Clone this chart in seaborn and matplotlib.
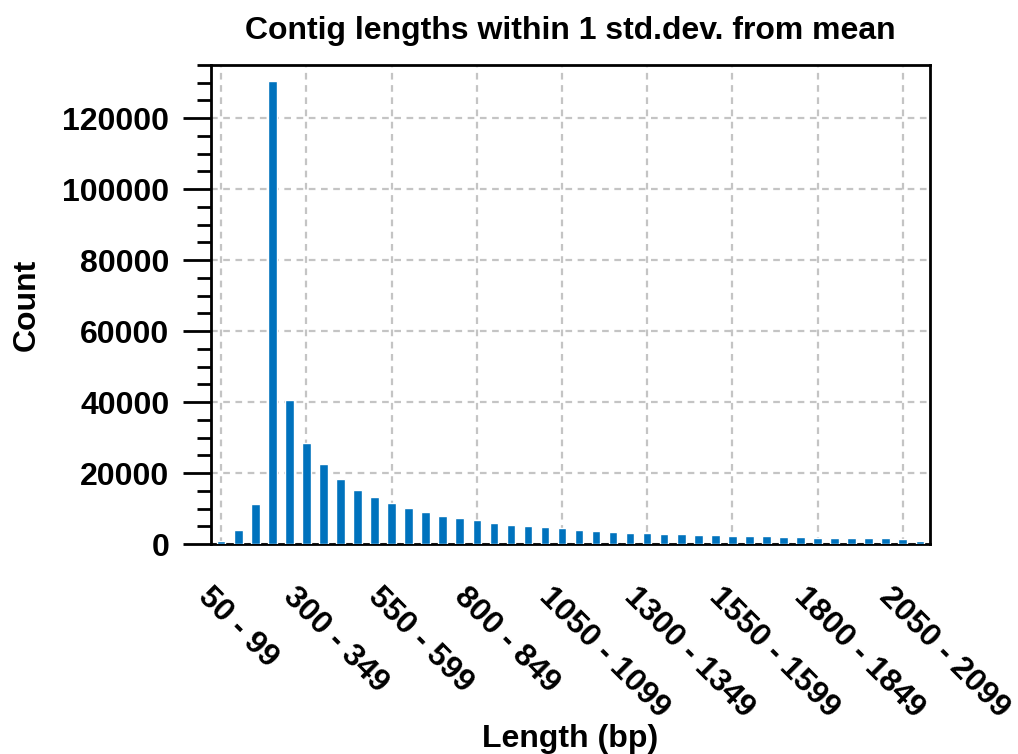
import numpy as np
import pandas as pd
import matplotlib
matplotlib.use('Agg')
import matplotlib.pyplot as plt
import matplotlib.transforms as mtransforms
from matplotlib.ticker import MultipleLocator
import seaborn as sns

# 구간 (bin 시작값, 50bp 단위)
bin_starts = list(range(50, 2150, 50))
bin_labels = [f'{s} - {s + 49}' for s in bin_starts]
# 구간별 contig 개수
counts = [850, 3900, 11350, 130400, 40500, 28500, 22450, 18200, 15200, 13150,
          11460, 10060, 9010, 7890, 7230, 6670, 5920, 5450, 5070, 4700,
          4420, 3940, 3660, 3470, 3190, 3000, 2900, 2730, 2540, 2440,
          2250, 2200, 2150, 1970, 1950, 1780, 1690, 1650, 1600, 1560,
          1500, 930]

df = pd.DataFrame({'Length': bin_labels, 'Count': counts})

sns.set_style('white')
plt.rcParams['font.family'] = ['Liberation Sans', 'DejaVu Sans']
plt.rcParams['font.weight'] = 'bold'
for key in ['text.color', 'axes.labelcolor', 'xtick.color', 'ytick.color']:
    plt.rcParams[key] = 'black'

fig = plt.figure(figsize=(10.18, 7.54), dpi=100)
ax = fig.add_axes([211 / 1018, 1 - 544 / 754, 719 / 1018, 479 / 754])

sns.barplot(data=df, x='Length', y='Count', color='#0072BD', width=0.5,
            saturation=1, ax=ax, zorder=3)

ax.set_xlim(-0.6, len(bin_labels) - 0.4)
ax.set_ylim(0, 135000)

# x 눈금: 5 구간마다
tick_pos = list(range(0, len(bin_labels), 5))
ax.set_xticks(tick_pos)
ax.tick_params(axis='x', length=0, pad=27)
ax.set_xticklabels([bin_labels[i] for i in tick_pos], rotation=-45,
                   ha='left', va='top', rotation_mode='anchor', fontsize=23,
                   fontweight='bold')

ax.yaxis.set_major_locator(MultipleLocator(20000))
ax.yaxis.set_minor_locator(MultipleLocator(5000))
ax.tick_params(axis='y', which='major', length=20, width=2, labelsize=23,
               pad=10, direction='out', left=True)
ax.tick_params(axis='y', which='minor', length=10, width=2, direction='out',
               left=True)
for lbl in ax.get_yticklabels():
    lbl.set_fontweight('bold')

# 라벨을 왼쪽으로 조금 이동 (tick_params 이후에 적용해야 유지됨)
offset = mtransforms.ScaledTranslation(-8 / 100, 0, fig.dpi_scale_trans)
for lbl in ax.get_xticklabels():
    lbl.set_transform(lbl.get_transform() + offset)

ax.grid(True, which='major', linestyle=(0, (3, 2.5)), color='#c4c4c4',
        linewidth=1.6, zorder=0)
ax.set_axisbelow(True)

for sp in ax.spines.values():
    sp.set_visible(True)
    sp.set_color('black')
    sp.set_linewidth(2)

ax.set_title('Contig lengths within 1 std.dev. from mean', fontsize=23,
             fontweight='bold', pad=19)
ax.set_xlabel('Length (bp)', fontsize=23, fontweight='bold')
ax.set_ylabel('Count', fontsize=23, fontweight='bold')
ax.xaxis.set_label_coords(0.5, -0.375)
ax.yaxis.set_label_coords(-0.235, 0.5)

fig.savefig('out.png', dpi=100)
